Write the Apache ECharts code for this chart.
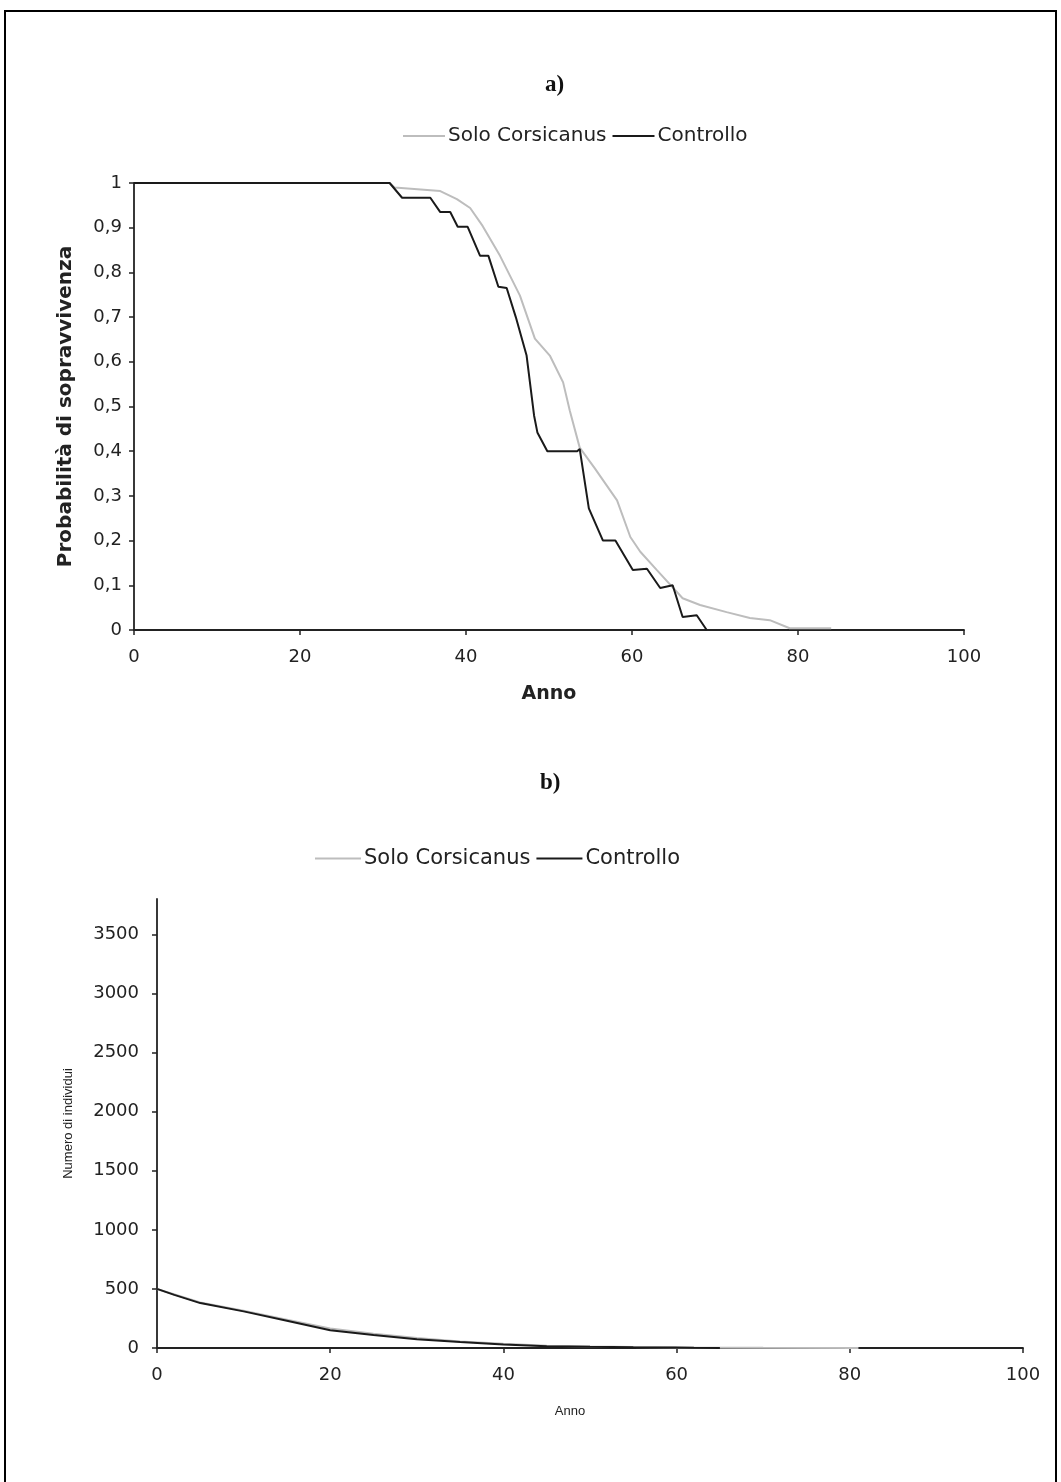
<!DOCTYPE html>
<html><head><meta charset="utf-8">
<script src="https://cdn.jsdelivr.net/npm/echarts@6/dist/echarts.min.js"></script>
<style>
html,body{margin:0;padding:0;background:#fff;}
#chart{position:absolute;left:0;top:0;width:1061px;height:1482px;}
#frame{position:absolute;left:4px;top:10px;width:1053px;height:1500px;border:2px solid #000;box-sizing:border-box;pointer-events:none;}
</style></head><body>
<div id="chart"></div><div id="frame"></div>
<script>
// Panel a) survival probability
const seriesNames = ['Solo Corsicanus', 'Controllo'];
const aCorsicanus = [[0,1],[30.8,1],[31.4,0.99],[36.9,0.982],[38.9,0.964],[40.5,0.944],[42.0,0.904],[44.1,0.837],[46.5,0.748],[48.3,0.652],[50.1,0.614],[51.7,0.554],[52.5,0.491],[53.7,0.408],[55.5,0.362],[58.2,0.29],[59.8,0.208],[61.0,0.175],[63.0,0.134],[66.1,0.071],[68.2,0.056],[71.4,0.04],[74.2,0.027],[76.6,0.022],[79.0,0.004],[84,0.004]];
const aControllo = [[0,1],[30.8,1],[32.3,0.967],[35.7,0.967],[36.9,0.935],[38.1,0.935],[39.0,0.902],[40.2,0.902],[41.7,0.837],[42.7,0.837],[43.9,0.768],[44.9,0.765],[46.0,0.70],[47.3,0.614],[48.2,0.48],[48.6,0.442],[49.8,0.40],[53.4,0.40],[53.7,0.405],[54.8,0.272],[56.5,0.2],[58.0,0.2],[60.1,0.134],[61.8,0.137],[63.4,0.094],[64.9,0.10],[66.1,0.029],[67.8,0.033],[69.0,0]];
// Panel b) number of individuals
const bCorsicanus = [[0,500],[5,385],[10,315],[15,240],[20,165],[25,120],[30,85],[35,55],[40,35],[45,20],[50,12],[55,8],[60,5],[70,2],[81,1]];
const bControllo = [[0,500],[2,450],[5,380],[10,310],[15,230],[20,150],[25,110],[30,75],[35,50],[40,30],[45,15],[50,10],[55,6],[60,4],[62,2],[65,1]];
const yTicksB = [0,500,1000,1500,2000,2500,3000,3500];

const GREY = '#bdbdbd', BLACK = '#1a1a1a';
const FONT = 'DejaVu Sans';
const axisLine = {show:true, lineStyle:{color:'#222', width:1.8}};
const axisTick = {show:true, inside:false, length:5, lineStyle:{color:'#222', width:1.5}};
const lbl = {color:'#222', fontFamily:FONT, fontSize:18};

const chart = echarts.init(document.getElementById('chart'), null, {renderer:'canvas'});
chart.setOption({
  animation:false,
  backgroundColor:'transparent',
  title:[
    {text:'a)', left:540, top:69, textStyle:{fontFamily:'Liberation Serif', fontWeight:'bold', fontSize:23, color:'#111'}},
    {text:'b)', left:535, top:767, textStyle:{fontFamily:'Liberation Serif', fontWeight:'bold', fontSize:23, color:'#111'}}
  ],
  legend:[
    {left:398, top:121, itemWidth:42, itemHeight:2, itemGap:6, icon:'rect',
     data:[{name:'Solo Corsicanus a', itemStyle:{color:GREY}},{name:'Controllo a', itemStyle:{color:BLACK}}],
     formatter:n=>n.slice(0,-2), textStyle:{fontFamily:FONT, fontSize:20, color:'#222', padding:[0,0,0,-2]}},
    {left:310, top:843, itemWidth:46, itemHeight:2, itemGap:6, icon:'rect',
     data:[{name:'Solo Corsicanus b', itemStyle:{color:GREY}},{name:'Controllo b', itemStyle:{color:BLACK}}],
     formatter:n=>n.slice(0,-2), textStyle:{fontFamily:FONT, fontSize:21, color:'#222', padding:[0,0,0,-2]}}
  ],
  grid:[
    {left:134, top:183, width:830, height:447},
    {left:157, top:899, width:866, height:449}
  ],
  xAxis:[
    {gridIndex:0, type:'value', min:0, max:100, interval:20, name:'Anno', nameLocation:'middle', nameGap:55,
     nameTextStyle:{fontFamily:FONT, fontWeight:'bold', fontSize:19, color:'#222'},
     axisLine, axisTick, splitLine:{show:false}, axisLabel:{...lbl, margin:18}},
    {gridIndex:1, type:'value', min:0, max:100, interval:20, name:'Anno', nameLocation:'middle', nameGap:57,
     nameTextStyle:{fontFamily:'Liberation Sans Narrow, Liberation Sans', fontSize:13, color:'#222', padding:[0,40,0,0]},
     axisLine, axisTick, splitLine:{show:false}, axisLabel:{...lbl, margin:18}},
  ],
  yAxis:[
    {gridIndex:0, type:'value', min:0, max:1, interval:0.1, name:'Probabilità di sopravvivenza', nameLocation:'middle', nameGap:58,
     nameTextStyle:{fontFamily:FONT, fontWeight:'bold', fontSize:20, color:'#222'},
     axisLine, axisTick, splitLine:{show:false},
     axisLabel:{...lbl, margin:12, formatter:v=>(v===0||v===1)?String(v):v.toFixed(1).replace('.',',')}},
    {gridIndex:1, type:'value', min:0, max:3800, name:'Numero di individui', nameLocation:'middle', nameGap:82,
     nameTextStyle:{fontFamily:'Liberation Sans Narrow, Liberation Sans', fontSize:13, color:'#222'},
     axisLine, axisTick:{...axisTick, customValues:yTicksB}, splitLine:{show:false},
     axisLabel:{...lbl, margin:18, customValues:yTicksB, formatter:v=>String(v)}}
  ],
  series:[
    {name:'Solo Corsicanus a', type:'line', xAxisIndex:0, yAxisIndex:0, data:aCorsicanus, showSymbol:false, lineStyle:{color:GREY, width:2}, itemStyle:{color:GREY}},
    {name:'Controllo a', type:'line', xAxisIndex:0, yAxisIndex:0, data:aControllo, showSymbol:false, lineStyle:{color:BLACK, width:2}, itemStyle:{color:BLACK}},
    {name:'Solo Corsicanus b', type:'line', xAxisIndex:1, yAxisIndex:1, data:bCorsicanus, showSymbol:false, lineStyle:{color:GREY, width:2}, itemStyle:{color:GREY}},
    {name:'Controllo b', type:'line', xAxisIndex:1, yAxisIndex:1, data:bControllo, showSymbol:false, lineStyle:{color:BLACK, width:2}, itemStyle:{color:BLACK}}
  ]
});
</script>
</body></html>
